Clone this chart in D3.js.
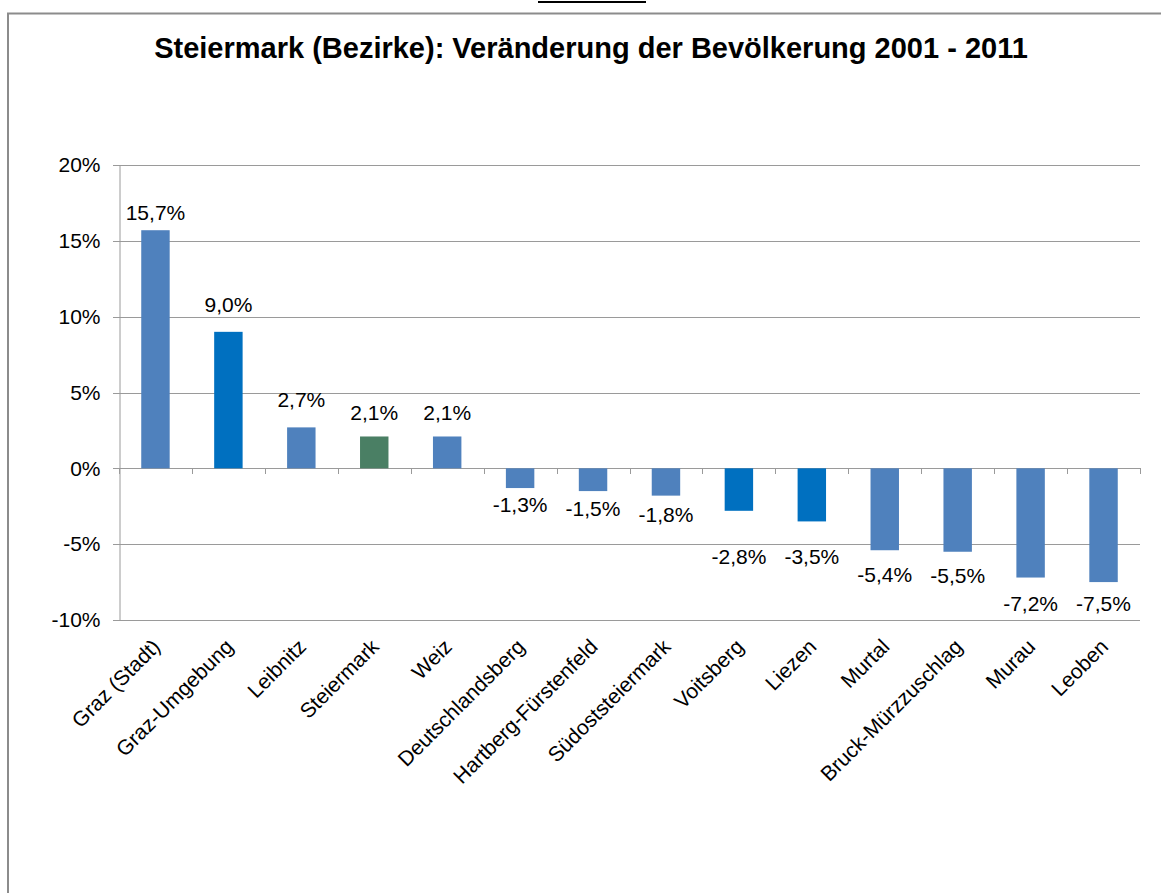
<!DOCTYPE html>
<html>
<head>
<meta charset="utf-8">
<script src="https://cdn.jsdelivr.net/npm/d3@7"></script>
<style>
  body { margin: 0; background: #fff; }
  svg { display: block; font-family: "Liberation Sans", Arial, sans-serif; }
</style>
</head>
<body>
<svg></svg>
<script>
// Bezirke, sortiert wie im Original
let districts = ["Graz (Stadt)", "Graz-Umgebung", "Leibnitz", "Steiermark", "Weiz",
                 "Deutschlandsberg", "Hartberg-Fürstenfeld", "Südoststeiermark", "Voitsberg",
                 "Liezen", "Murtal", "Bruck-Mürzzuschlag", "Murau", "Leoben"]
let change = [15.7, 9.0, 2.7, 2.1, 2.1, -1.3, -1.5, -1.8, -2.8, -3.5, -5.4, -5.5, -7.2, -7.5]
let yTicks = [-10, -5, 0, 5, 10, 15, 20]

// Hervorhebungen
let darkBlue = ["Graz-Umgebung", "Voitsberg", "Liezen"]
let total = "Steiermark"

let width = 1161
let height = 893
let plotLeft = 119
let plotRight = 1140
let plotTop = 165
let plotBottom = 620

// manual label offsets (px), like the hand-placed labels in the original
let labelNudge = [0, -10, -10, -6, -6, 0, 1, 2, 29, 19, 8, 7, 9, 5]

let fmt = (v) => v.toFixed(1).replace(".", ",") + "%"

let svg = d3.select("svg")
  .attr("width", width)
  .attr("height", height)

let xScale = d3.scaleBand()
  .domain(districts)
  .range([plotLeft, plotRight])
  .paddingInner(0.61)
  .paddingOuter(0.305)

let yScale = d3.scaleLinear()
  .domain([-10, 20])
  .range([plotBottom, plotTop])

let drawFrame = () => {
  svg.append("rect")
     .attr("width", width)
     .attr("height", height)
     .attr("fill", "#fff")

  svg.append("rect")
     .attr("x", 8)
     .attr("y", 13.5)
     .attr("width", width + 20)
     .attr("height", height + 20)
     .attr("fill", "none")
     .attr("stroke", "#8c8c8c")
     .attr("stroke-width", 2)

  svg.append("line")
     .attr("x1", 538).attr("x2", 646)
     .attr("y1", 2).attr("y2", 2)
     .attr("stroke", "#000")
     .attr("stroke-width", 2)

  svg.append("text")
     .attr("x", 591)
     .attr("y", 58)
     .attr("text-anchor", "middle")
     .style("font-size", "29px")
     .style("font-weight", "bold")
     .text("Steiermark (Bezirke): Veränderung der Bevölkerung 2001 - 2011")
}

let drawAxes = () => {
  // gridlines
  svg.append("g")
     .selectAll("line")
     .data(yTicks)
     .enter()
     .append("line")
     .attr("x1", plotLeft - 6)
     .attr("x2", plotRight)
     .attr("y1", (d) => Math.round(yScale(d)) + 0.5)
     .attr("y2", (d) => Math.round(yScale(d)) + 0.5)
     .attr("stroke", "#9a9a9a")

  let yAxis = d3.axisLeft(yScale)
                .tickValues(yTicks)
                .tickSize(0)
                .tickPadding(19)
                .tickFormat((d) => d + "%")

  let gy = svg.append("g")
     .attr("transform", "translate(" + (plotLeft + 0.5) + ",0)")
     .call(yAxis)
  gy.select(".domain").attr("stroke", "#9a9a9a")
  gy.selectAll("text")
    .style("font-size", "21px")
    .style("font-family", "inherit")
    .attr("fill", "#000")

  // category boundary ticks along the zero line
  let bounds = d3.range(districts.length + 1).map((i) => plotLeft + i * xScale.step())
  svg.append("g")
     .selectAll("line")
     .data(bounds)
     .enter()
     .append("line")
     .attr("x1", (d) => Math.round(d) + 0.5)
     .attr("x2", (d) => Math.round(d) + 0.5)
     .attr("y1", Math.round(yScale(0)))
     .attr("y2", Math.round(yScale(0)) + 6)
     .attr("stroke", "#9a9a9a")

  svg.append("g")
     .selectAll("text")
     .data(districts)
     .enter()
     .append("text")
     .attr("text-anchor", "end")
     .attr("transform", (d) => "translate(" + (xScale(d) + xScale.bandwidth() / 2 + 6) + ",648) rotate(-45)")
     .style("font-size", "21px")
     .text((d) => d)
}

let drawBars = () => {
  let color = (d) => {
    if (d === total) return "#4a7f64"
    if (darkBlue.includes(d)) return "#0070c0"
    return "#4f81bd"
  }

  svg.append("g")
     .selectAll("rect")
     .data(districts)
     .enter()
     .append("rect")
     .attr("x", (d) => xScale(d))
     .attr("width", xScale.bandwidth())
     .attr("y", (d, i) => yScale(Math.max(0, change[i])))
     .attr("height", (d, i) => Math.abs(yScale(change[i]) - yScale(0)))
     .attr("fill", (d) => color(d))

  svg.append("g")
     .selectAll("text")
     .data(districts)
     .enter()
     .append("text")
     .attr("text-anchor", "middle")
     .attr("x", (d) => xScale(d) + xScale.bandwidth() / 2)
     .attr("y", (d, i) => {
       let v = change[i]
       let base = v >= 0 ? yScale(v) - 10 : yScale(v) + 24
       return base + labelNudge[i]
     })
     .style("font-size", "21px")
     .text((d, i) => fmt(change[i]))
}

drawFrame()
drawAxes()
drawBars()
</script>
</body>
</html>
